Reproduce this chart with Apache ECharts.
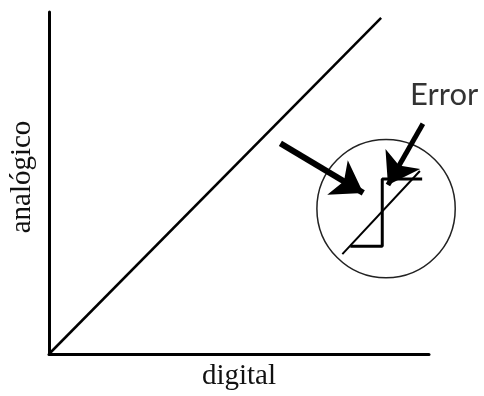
<!DOCTYPE html>
<html>
<head>
<meta charset="utf-8">
<script src="https://cdn.jsdelivr.net/npm/echarts@6/dist/echarts.min.js"></script>
<style>
  html, body { margin: 0; padding: 0; background: #fff; }
  #chart { width: 484px; height: 396px; }
</style>
</head>
<body>
<div id="chart"></div>
<script>
// diagram geometry, in axis units (0..100 on both axes)
var mainLine = [[0, 0], [87.4, 98.3]];
var stepLine = [[79.3, 31.5], [87.7, 31.5], [87.7, 51.2], [98.2, 51.2]];
var zoomDiagonal = [[77.2, 29.2], [97.6, 53.5]];
var zoomCircle = [[88.7, 42.5, 18.2]]; // cx, cy, radius (x units)
var bigArrow = [[60.9, 61.6], [82.7, 47.1]];
var errorArrow = [[98.4, 67.3], [89.2, 49.4]];
var errorLabel = [[104.0, 75.7]];
var xName = 'digital';
var yName = 'analógico';

var chart = echarts.init(document.getElementById('chart'));

var axisCommon = {
    type: 'value',
    min: 0,
    max: 100,
    axisLine: { show: true, lineStyle: { color: '#000', width: 3 } },
    axisTick: { show: false },
    axisLabel: { show: false },
    splitLine: { show: false }
};

chart.setOption({
    animation: false,
    grid: { left: 48, right: 55, top: 12, bottom: 38 },
    xAxis: Object.assign({}, axisCommon, {
        name: xName,
        nameLocation: 'middle',
        nameGap: 8,
        nameTextStyle: { fontFamily: 'Liberation Serif', fontSize: 29, color: '#111' }
    }),
    yAxis: Object.assign({}, axisCommon, {
        name: yName,
        nameLocation: 'middle',
        nameGap: 12,
        nameRotate: 90,
        nameTextStyle: { fontFamily: 'Liberation Serif', fontSize: 29, color: '#111', padding: [0, 0, 0, 12] }
    }),
    series: [
        {
            type: 'line',
            data: mainLine,
            symbol: 'none',
            lineStyle: { color: '#000', width: 2.5 }
        },
        {
            type: 'custom',
            data: zoomCircle,
            clip: false,
            renderItem: function (params, api) {
                var c = api.coord([api.value(0), api.value(1)]);
                var r = api.size([api.value(2), 0])[0];
                return {
                    type: 'circle',
                    shape: { cx: c[0], cy: c[1], r: r },
                    style: { fill: 'none', stroke: '#222', lineWidth: 1.5 }
                };
            }
        },
        {
            type: 'line',
            data: stepLine,
            symbol: 'none',
            lineStyle: { color: '#000', width: 3 }
        },
        {
            type: 'line',
            data: zoomDiagonal,
            symbol: 'none',
            lineStyle: { color: '#000', width: 2 }
        },
        {
            type: 'lines',
            coordinateSystem: 'cartesian2d',
            symbol: ['none', 'arrow'],
            symbolSize: 30,
            lineStyle: { color: '#000', width: 6, opacity: 1 },
            data: [{ coords: bigArrow }]
        },
        {
            type: 'lines',
            coordinateSystem: 'cartesian2d',
            symbol: ['none', 'arrow'],
            symbolSize: 30,
            lineStyle: { color: '#000', width: 5, opacity: 1 },
            data: [{ coords: errorArrow }]
        },
        {
            type: 'scatter',
            data: errorLabel,
            clip: false,
            symbolSize: 0,
            label: {
                show: true,
                position: 'inside',
                formatter: 'Error',
                fontFamily: 'Lato',
                fontSize: 31,
                color: '#000'
            }
        }
    ]
});
</script>
</body>
</html>
